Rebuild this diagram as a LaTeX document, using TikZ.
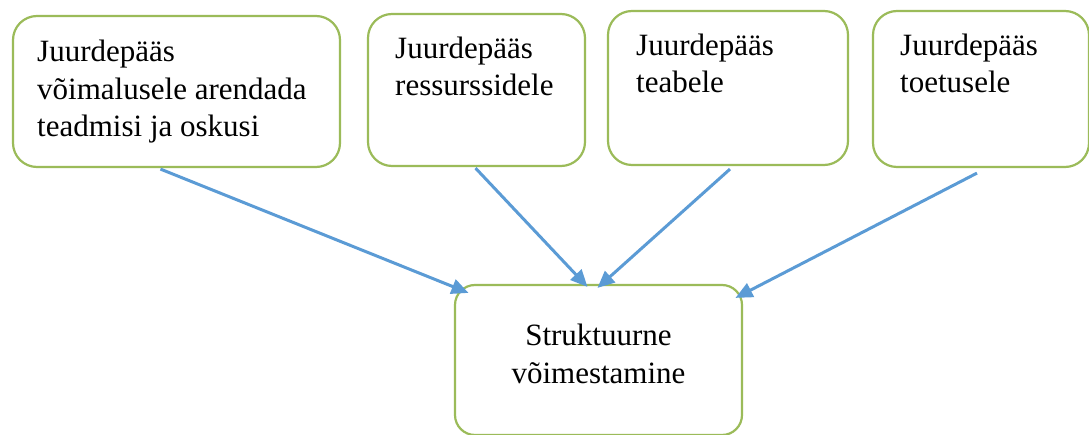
\documentclass[tikz,border=0pt]{standalone}
\usepackage{fontspec}
\setmainfont{Liberation Serif}
\usetikzlibrary{arrows.meta}
\definecolor{boxgreen}{RGB}{155,187,89}
\definecolor{arrowblue}{RGB}{91,155,213}
\begin{document}
\begin{tikzpicture}[x=1pt,y=-1pt,
  box/.style={draw=boxgreen,line width=2.2pt,rounded corners=24pt,inner sep=0pt,fill=white},
  txt/.style={inner sep=0pt,align=left,anchor=base west,font=\fontsize{31}{37.5}\selectfont},
  ctxt/.style={inner sep=0pt,align=center,font=\fontsize{31}{38}\selectfont},
  conn/.style={draw=arrowblue,line width=3pt,-{Triangle[length=17pt,width=15pt]}}]
\useasboundingbox (0,0) rectangle (1089,435);
% boxes
\node[box,minimum width=327pt,minimum height=151pt] (b1) at (176.5,91.5) {};
\node[box,minimum width=217pt,minimum height=152pt] (b2) at (476.5,90) {};
\node[box,minimum width=240pt,minimum height=154pt] (b3) at (728,88) {};
\node[box,minimum width=216pt,minimum height=156pt] (b4) at (981,89) {};
\node[box,rounded corners=20pt,minimum width=287pt,minimum height=150pt] (b5) at (598.5,360) {};
% texts (anchor = baseline of last line)
\node[txt] (t1) at (37,137) {Juurdepääs\\võimalusele arendada\\teadmisi ja oskusi};
\node[txt] (t2) at (395,96) {Juurdepääs\\ressurssidele};
\node[txt] (t3) at (636,93) {Juurdepääs\\teabele};
\node[txt] (t4) at (900,93) {Juurdepääs\\toetusele};
\node[ctxt] (t5) at (598.5,354) {Struktuurne\\võimestamine};
% connectors
\draw[conn] ([xshift=-16pt,yshift=-1pt]b1.south) -- ([xshift=-130pt,yshift=-9pt]b5.north);
\draw[conn] ([xshift=-1pt,yshift=-1pt]b2.south) -- ([xshift=-11pt,yshift=-3pt]b5.north);
\draw[conn] ([xshift=2pt,yshift=-3pt]b3.south) -- ([xshift=-1pt,yshift=-4pt]b5.north);
\draw[conn] ([xshift=-4pt,yshift=-5pt]b4.south) -- ([xshift=137pt,yshift=-14pt]b5.north);
\end{tikzpicture}
\end{document}
